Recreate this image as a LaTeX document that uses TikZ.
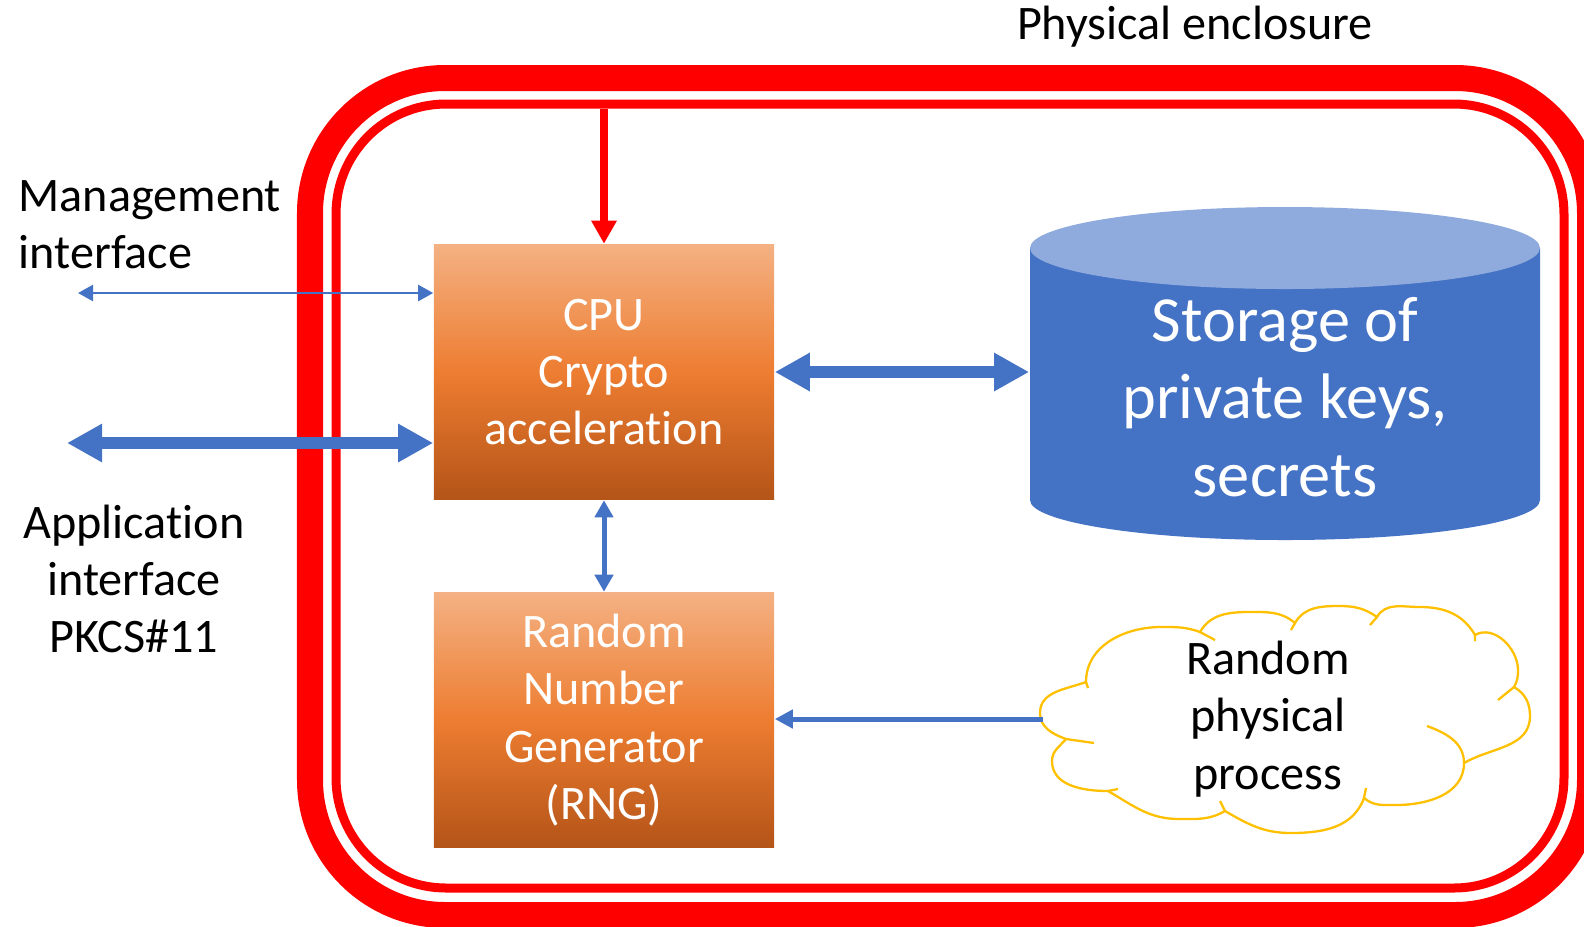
\documentclass[tikz,border=0pt]{standalone}
\usepackage{fontspec}
\setmainfont{Carlito}[Ligatures=NoCommon]
\usetikzlibrary{arrows.meta, positioning}
\definecolor{hsmRed}{HTML}{FF0000}
\definecolor{hsmBlue}{HTML}{4472C4}
\definecolor{hsmLight}{HTML}{8FAADC}
\definecolor{hsmGold}{HTML}{FFC000}
\definecolor{boxTop}{HTML}{F4B183}
\definecolor{boxMid}{HTML}{ED7D31}
\definecolor{boxBot}{HTML}{B45418}
\newcommand{\lblfont}{\fontsize{13.7}{16.3}\selectfont}
\newcommand{\bigfont}{\fontsize{18.3}{22}\selectfont}

\begin{document}
\begin{tikzpicture}[x=0.01cm, y=-0.01cm,
      bx/.style={minimum width=3.4cm, minimum height=2.55cm, inner sep=0pt,
        top color=boxTop, bottom color=boxBot, middle color=boxMid,
        text=white, align=center, font=\lblfont},
      lbl/.style={inner sep=0pt, font=\lblfont},
      band/.style={hsmRed, rounded corners=#1},
      fat/.style={hsmBlue, line width=0.115cm,
        arrows={Triangle[width=3.6mm,length=3.5mm]-Triangle[width=3.6mm,length=3.5mm]}},
      thinarr/.style={hsmBlue, line width=0.023cm,
        arrows={Triangle[width=1.6mm,length=1.5mm]-Triangle[width=1.6mm,length=1.5mm]}},
      midarr/.style={hsmBlue, line width=0.05cm,
        arrows={Triangle[width=1.8mm,length=1.7mm]-Triangle[width=1.8mm,length=1.7mm]}},
      rngarr/.style={hsmBlue, line width=0.05cm,
        arrows={-Triangle[width=1.8mm,length=1.8mm]}},
      redarr/.style={hsmRed, line width=0.08cm,
        arrows={-Triangle[width=2.4mm,length=2.3mm]}},
      puff/.style={hsmGold, line width=0.65pt}]
    \useasboundingbox (0,0) rectangle (1584,926);
    \clip (0,0) rectangle (1584,926);

    \draw[band=1.35cm, line width=0.26cm] (310,78) rectangle (1590,915);
    \draw[band=1.1cm, line width=0.09cm] (336,104) rectangle (1564,888);
    \node[lbl] (encl) at (1195,27) {Physical enclosure};

    \node[bx] (cpu) at (604,372) {CPU\\Crypto\\acceleration};
    \node[bx] (rng) at (604,720) {Random\\Number\\Generator\\(RNG)};

    \fill[hsmBlue] (1030,248) -- (1030,500) .. controls (1030,522) and (1144,540) .. (1285,540)
      .. controls (1426,540) and (1540,522) .. (1540,500) -- (1540,248) -- cycle;
    \fill[hsmLight] (1285,248) ellipse [x radius=255, y radius=41];
    \node[lbl, font=\bigfont, text=white, align=center, minimum width=5.1cm] (store) at (1285,397)
      {Storage of\\private keys,\\secrets};

    \draw[puff, fill=white]
      (1066,739) to[out=160,in=270] (1040,713) to[out=90,in=200] (1086,682)
      to[out=90,in=180] (1161,627) to[out=0,in=160] (1200,632)
      to[out=60,in=180] (1250,612) to[out=0,in=140] (1295,623)
      to[out=60,in=180] (1339,606) to[out=0,in=145] (1377,617)
      to[out=60,in=180] (1420,607) to[out=0,in=120] (1475,635)
      to[out=30,in=90] (1518,670) to[out=270,in=60] (1514,687)
      to[out=330,in=90] (1530,716) to[out=270,in=30] (1464,763)
      to[out=270,in=0] (1396,805) to[out=180,in=320] (1364,798)
      to[out=250,in=0] (1291,833) to[out=180,in=330] (1225,811)
      to[out=210,in=0] (1179,819) to[out=180,in=330] (1108,791)
      to[out=180,in=270] (1052,761) to[out=90,in=230] (1066,739);
    \draw[puff] (1066,739) -- (1094,743) (1086,682) -- (1088,688)
      (1200,632) -- (1215,640) (1295,623) -- (1291,630)
      (1377,617) -- (1370,625) (1475,635) -- (1475,641)
      (1514,687) -- (1498,700) (1364,798) -- (1366,788)
      (1225,811) -- (1220,801) (1108,791) -- (1118,789);
    \draw[puff] (1464,763) to[out=90,in=340] (1427,726);
    \node[lbl, align=center] (rand) at (1268,719) {Random\\physical\\process};
    \coordinate (cloudl) at (1043,719);

    \node[lbl, align=left, anchor=west] (mgmtlbl) at (18,225) {Management\\interface};
    \node[lbl, align=center] (applbl) at (134,579) {Application\\interface\\PKCS\#11};

    \coordinate (lid) at (604,109);
    \coordinate (mgmt) at (78,293);
    \coordinate (app) at (67,443);
    \draw[redarr] (lid) -- (cpu.north);
    \draw[thinarr] (mgmt) -- (mgmt -| cpu.west);
    \draw[fat] (app) -- (app -| cpu.west);
    \draw[fat] (cpu.east) -- (cpu.east -| store.west);
    \draw[midarr] (cpu.south) -- (rng.north);
    \draw[rngarr] (cloudl) -- (cloudl -| rng.east);
  \end{tikzpicture}
\end{document}
